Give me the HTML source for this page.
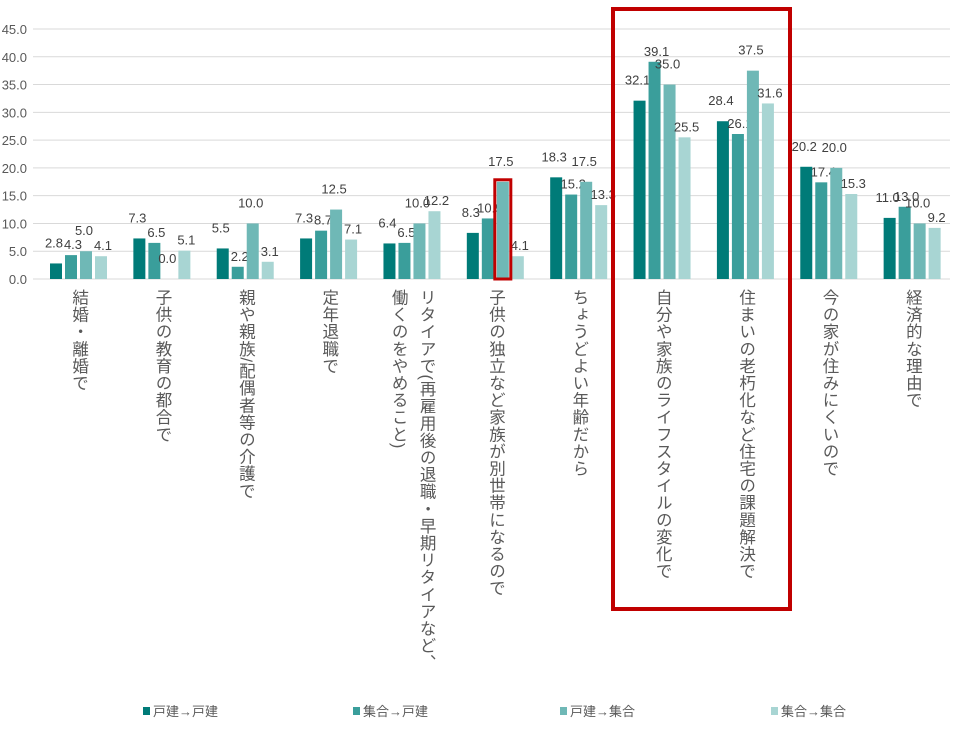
<!DOCTYPE html>
<html><head><meta charset="utf-8"><style>
body{margin:0;background:#fff;width:968px;height:734px;overflow:hidden;font-family:"Liberation Sans","Noto Sans CJK JP",sans-serif}
svg{position:absolute;left:0;top:0}
.cat{position:absolute;top:289px;writing-mode:vertical-rl;font-size:16.5px;line-height:28px;color:#595959;letter-spacing:0.6px;font-family:"Liberation Sans","Noto Sans CJK JP",sans-serif;white-space:nowrap}
</style></head><body>
<svg id="chart" width="968" height="734"></svg>
<div id="cats"></div>
<script>
const categories=["結婚・離婚で","子供の教育の都合で","親や親族/配偶者等の介護で","定年退職で","リタイアで(再雇用後の退職・早期リタイアなど/働くのをやめること)","子供の独立など家族が別世帯になるので","ちょうどよい年齢だから","自分や家族のライフスタイルの変化で","住まいの老朽化など住宅の課題解決で","今の家が住みにくいので","経済的な理由で"];
const seriesNames=["戸建→戸建","集合→戸建","戸建→集合","集合→集合"];
const s1=[2.8,7.3,5.5,7.3,6.4,8.3,18.3,32.1,28.4,20.2,11.0];
const s2=[4.3,6.5,2.2,8.7,6.5,10.9,15.2,39.1,26.1,17.4,13.0];
const s3=[5.0,0.0,10.0,12.5,10.0,17.5,17.5,35.0,37.5,20.0,10.0];
const s4=[4.1,5.1,3.1,7.1,12.2,4.1,13.3,25.5,31.6,15.3,9.2];
const yTicks=[0,5,10,15,20,25,30,35,40,45];
const colors=["#007b78","#3a9e9b","#6fb8b6","#a8d5d3"];
const series=[s1,s2,s3,s4];
const NS="http://www.w3.org/2000/svg";
const svg=document.getElementById('chart');
const x0=33,x1=950,yBase=279,yPer=250/45;
const slot=(x1-x0)/categories.length;
const y=v=>yBase-v*yPer;
const xb=(i,s)=>x0+i*slot+17+s*15;
function mk(t,a){const e=document.createElementNS(NS,t);for(const k in a)e.setAttribute(k,a[k]);svg.appendChild(e);return e;}
yTicks.forEach(t=>{
 const l=mk('line',{x1:x0,x2:x1,y1:y(t),y2:y(t),stroke:'#d9d9d9','stroke-width':1});
 
 
 const tx=mk('text',{x:27,y:y(t)+5,'text-anchor':'end','font-size':13,fill:'#595959'});
 tx.textContent=t.toFixed(1);
 
 
});
series.forEach((arr,s)=>{
 arr.forEach((v,i)=>{
  const r=mk('rect',{x:xb(i,s),y:y(v),width:12,height:v*yPer,fill:colors[s]});
  
  
  const lab=mk('text',{x:xb(i,s)+6+(s%2?2:-2),y:y(v)-6-(s%2?0:10),'text-anchor':'middle','font-size':13,fill:'#404040'});
  lab.textContent=v.toFixed(1);
  
  
 });
});
const hb=mk('rect',{x:613,y:9,width:177,height:600,fill:'none',stroke:'#c00000','stroke-width':4});


const hs=mk('rect',{x:xb(5,2)-2,y:y(s3[5])-2,width:16,height:s3[5]*yPer+2,fill:'none',stroke:'#c00000','stroke-width':3});


const legX=[143,353,560,771];
seriesNames.forEach((n,s)=>{
 const r=mk('rect',{x:legX[s],y:707,width:7,height:8,fill:colors[s]});
 
 
 const t=mk('text',{x:legX[s]+10,y:716,'font-size':13,fill:'#595959'});
 t.textContent=n;
 
 
});
const cd=document.getElementById('cats');
categories.forEach((c,i)=>{
 const d=document.createElement('div');
 d.className='cat';
 
 
 let txt;
 if(i===4){txt='リタイアで(再雇用後の退職・早期リタイアなど、<br>働くのをやめること)';}
 else txt=c;
 d.innerHTML=txt;
 const cx=x0+i*slot+slot/2+4;
 d.style.left=(cx-(i===4?28:14))+'px';
 cd.appendChild(d);
});
</script>
</body></html>
